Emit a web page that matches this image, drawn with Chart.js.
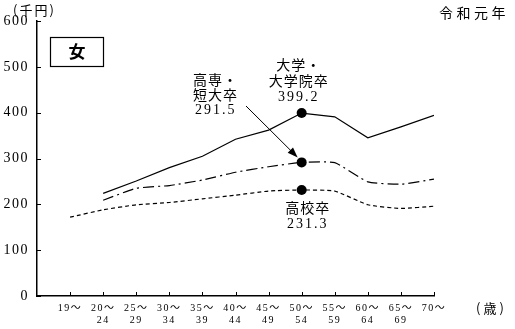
<!DOCTYPE html>
<html>
<head>
<meta charset="utf-8">
<script src="https://cdn.jsdelivr.net/npm/chart.js@4/dist/chart.umd.min.js"></script>
<style>
  html, body { margin: 0; background: #fff; }
  #wrap { width: 515px; height: 329px; }
</style>
</head>
<body>
<div id="wrap"><canvas id="chart"></canvas></div>
<script>
// 年齢階級
const ages = [['19～'], ['20～', '24'], ['25～', '29'], ['30～', '34'], ['35～', '39'], ['40～', '44'],
  ['45～', '49'], ['50～', '54'], ['55～', '59'], ['60～', '64'], ['65～', '69'], ['70～']];
// 学歴別 賃金（千円）
const univ = [null, 224, 251, 280, 305, 342, 362, 399.2, 391, 345, 369, 394];
const college = [null, 209, 235, 241, 253, 270, 282, 291.5, 291, 249, 244, 255];
const highSchool = [172, 188, 199, 204, 212, 220, 229, 231.3, 229, 199, 191, 196];
const yTicks = [0, 100, 200, 300, 400, 500, 600];

const SERIF = "'Liberation Serif', 'Noto Sans CJK JP', serif";
const JP = "'Noto Sans CJK JP', sans-serif";
const PEAK = 7;

const toPoints = vals => vals.map((v, i) => ({ x: i, y: v }));

// 目盛り文字は字間を少し空ける
const spacing = {
  id: 'spacing',
  beforeDraw(chart) { chart.ctx.letterSpacing = '1.5px'; },
  beforeDatasetsDraw(chart) { chart.ctx.letterSpacing = '0px'; }
};

// 注記・枠・矢印など
const notes = {
  id: 'notes',
  afterDraw(chart) {
    const { ctx, scales: { x, y } } = chart;
    ctx.save();
    ctx.fillStyle = '#000';
    ctx.strokeStyle = '#000';

    // 内向きの目盛り
    ctx.lineWidth = 1;
    ctx.beginPath();
    yTicks.forEach(v => {
      const py = Math.round(y.getPixelForValue(v)) + 0.5;
      ctx.moveTo(x.left, py); ctx.lineTo(x.left + 4, py);
    });
    ages.forEach((a, i) => {
      const px = Math.round(x.getPixelForValue(i)) + 0.5;
      ctx.moveTo(px, y.bottom); ctx.lineTo(px, y.bottom - 4);
    });
    ctx.stroke();

    ctx.textBaseline = 'middle';
    ctx.textAlign = 'left';
    ctx.letterSpacing = '2px';
    ctx.font = '13px ' + JP;
    ctx.fillText('(千円)', 13, 10);
    ctx.letterSpacing = '3.5px';
    ctx.font = '14px ' + JP;
    ctx.fillText('令和元年', 439, 13);
    ctx.letterSpacing = '3px';
    ctx.font = '13px ' + JP;
    ctx.fillText('(歳)', 476, 308);
    ctx.letterSpacing = '0px';

    // 「女」の枠
    ctx.lineWidth = 1.2;
    ctx.strokeRect(50.5, 37.5, 53, 29);
    ctx.font = 'bold 17px ' + JP;
    ctx.textAlign = 'center';
    ctx.fillText('女', 77, 52);

    const px = x.getPixelForValue(PEAK);
    ctx.letterSpacing = '1px';
    ctx.font = '14px ' + JP;
    ctx.fillText('大学・', px - 3, 65);
    ctx.fillText('大学院卒', px - 3, 81);
    ctx.letterSpacing = '2px';
    ctx.font = '14px ' + SERIF;
    ctx.fillText('399.2', px - 3, 97);

    ctx.textAlign = 'left';
    ctx.letterSpacing = '1px';
    ctx.font = '14px ' + JP;
    ctx.fillText('高専・', 193, 80);
    ctx.fillText('短大卒', 193, 95);
    ctx.letterSpacing = '2px';
    ctx.font = '14px ' + SERIF;
    ctx.fillText('291.5', 195, 110);

    ctx.textAlign = 'center';
    ctx.letterSpacing = '1px';
    ctx.font = '14px ' + JP;
    ctx.fillText('高校卒', px + 6, 208);
    ctx.letterSpacing = '2px';
    ctx.font = '14px ' + SERIF;
    ctx.fillText('231.3', px + 6, 224);
    ctx.letterSpacing = '0px';

    // 矢印
    const tx = px - 4, ty = y.getPixelForValue(college[PEAK]) - 5;
    const sx = 246, sy = 106;
    const ang = Math.atan2(ty - sy, tx - sx);
    ctx.lineWidth = 1;
    ctx.beginPath();
    ctx.moveTo(sx, sy);
    ctx.lineTo(tx - 8 * Math.cos(ang), ty - 8 * Math.sin(ang));
    ctx.stroke();
    ctx.beginPath();
    ctx.moveTo(tx, ty);
    ctx.lineTo(tx - 11 * Math.cos(ang - 0.35), ty - 11 * Math.sin(ang - 0.35));
    ctx.lineTo(tx - 11 * Math.cos(ang + 0.35), ty - 11 * Math.sin(ang + 0.35));
    ctx.closePath();
    ctx.fill();
    ctx.restore();
  }
};

const lineStyle = (dash, tension) => ({
  borderColor: '#000',
  backgroundColor: '#000',
  borderWidth: 1.2,
  borderDash: dash,
  tension: tension,
  fill: false,
  pointRadius: c => (c.dataIndex === PEAK ? 5 : 0),
  pointHoverRadius: 0,
  pointBorderWidth: 0,
  spanGaps: false
});

new Chart(document.getElementById('chart'), {
  type: 'line',
  data: {
    datasets: [
      Object.assign({ label: '大学・大学院卒', data: toPoints(univ) }, lineStyle([], 0)),
      Object.assign({ label: '高専・短大卒', data: toPoints(college) }, lineStyle([11, 4, 2, 4], 0.15)),
      Object.assign({ label: '高校卒', data: toPoints(highSchool) }, lineStyle([4, 3], 0.15))
    ]
  },
  options: {
    responsive: true,
    maintainAspectRatio: false,
    animation: false,
    layout: { padding: { top: 21, right: 81, left: 0, bottom: 0 } },
    plugins: { legend: { display: false }, tooltip: { enabled: false } },
    scales: {
      x: {
        type: 'linear',
        min: -1,
        max: 11,
        afterFit: s => { s.height = 33; },
        afterBuildTicks: s => { s.ticks = ages.map((a, i) => ({ value: i })); },
        grid: { display: true, drawOnChartArea: false, drawTicks: false },
        border: { color: '#000', width: 1.5 },
        ticks: {
          autoSkip: false,
          maxRotation: 0,
          padding: 7,
          color: '#000',
          font: { family: SERIF, size: 10, lineHeight: 1.15 },
          callback: v => ages[v]
        }
      },
      y: {
        min: 0,
        max: 600,
        afterFit: s => { s.width = 37; },
        afterBuildTicks: s => { s.ticks = yTicks.map(v => ({ value: v })); },
        grid: { display: true, drawOnChartArea: false, drawTicks: false },
        border: { color: '#000', width: 1.5 },
        ticks: {
          padding: 8,
          color: '#000',
          font: { family: SERIF, size: 14 }
        }
      }
    }
  },
  plugins: [spacing, notes]
});
</script>
</body>
</html>
